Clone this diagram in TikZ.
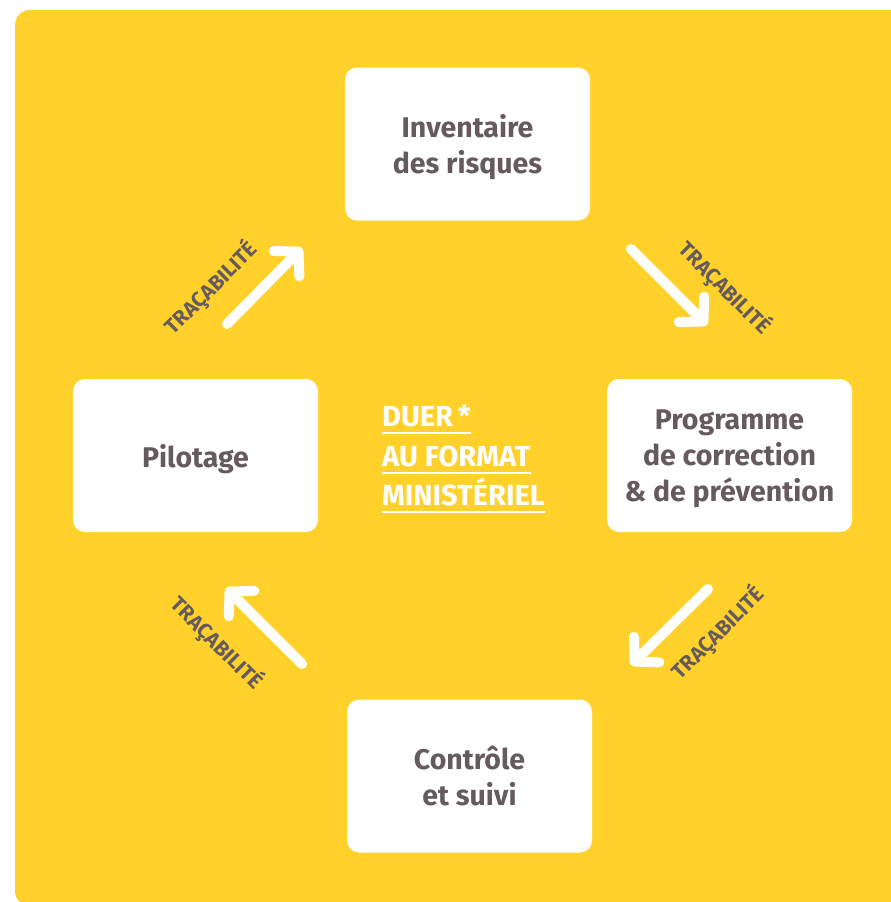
\documentclass[tikz,border=0pt]{standalone}
\usepackage{fontspec}
\setmainfont{Fira Sans}
\usetikzlibrary{arrows.meta}
\definecolor{duerjaune}{HTML}{FFD12A}
\definecolor{duertexte}{HTML}{655A5D}
\def\boxw{245pt}
\def\boxh{153pt}

\begin{document}
\begin{tikzpicture}[x=1pt,y=-1pt]
    \tikzstyle{etape}=[rectangle,rounded corners=12pt,fill=white,minimum width=\boxw,minimum height=\boxh,inner sep=0pt,text depth=0pt,align=center,text=duertexte,font=\fontsize{28.5}{36}\selectfont\bfseries]
    \tikzstyle{fleche}=[draw=white,line width=10pt,line cap=round,-{Straight Barb[length=17pt,width=36pt,line cap=round,line join=round]}]
    \tikzstyle{trace}=[text=duertexte,font=\fontsize{21}{21}\selectfont\bfseries,inner sep=0pt]
    \tikzstyle{duer}=[text=white,font=\fontsize{29}{29}\selectfont\bfseries,inner sep=0pt,anchor=base west]
    \tikzstyle{souligne}=[draw=white,line width=2pt]
    \useasboundingbox (0,0) rectangle (891,902);
    \clip (0,0) rectangle (891,902);
    % Draw the yellow background
    \fill[duerjaune,rounded corners=15pt] (15,10) rectangle (930,906);
    % Draw the four steps
    \node[etape] (inv) at (467.5,144) {Inventaire\\des risques};
    \node[etape] (prog) at (729.5,455.5) {Programme\\de correction\\\& de prévention};
    \node[etape] (ctrl) at (469.5,776) {Contrôle\\et suivi};
    \node[etape] (pil) at (195.5,455.5) {Pilotage};
    % Arrow ends
    \coordinate (pil-out) at (227,324);
    \coordinate (inv-in) at (302,248);
    \coordinate (inv-out) at (631,249);
    \coordinate (prog-in) at (707,325);
    \coordinate (prog-out) at (708,589);
    \coordinate (ctrl-in) at (631,665);
    \coordinate (ctrl-out) at (302,664);
    \coordinate (pil-in) at (226,588);
    \draw[fleche] (pil-out) -- (inv-in);
    \draw[fleche] (inv-out) -- (prog-in);
    \draw[fleche] (prog-out) -- (ctrl-in);
    \draw[fleche] (ctrl-out) -- (pil-in);
    % Annotate the arrows
    \node[trace,rotate=45] (t1) at (211,288) {TRAÇABILITÉ};
    \node[trace,rotate=-45] (t2) at (725,288) {TRAÇABILITÉ};
    \node[trace,rotate=45] (t3) at (718,633) {TRAÇABILITÉ};
    \node[trace,rotate=-45] (t4) at (217,643) {TRAÇABILITÉ};
    % Centre text
    \node[duer] (d1) at (382,426) {DUER\,*};
    \node[duer] (d2) at (382,466) {AU FORMAT};
    \node[duer] (d3) at (382,505) {MINISTÉRIEL};
    \foreach \n in {d1,d2,d3}
        \draw[souligne] ([yshift=-7pt]\n.base west) -- ([yshift=-7pt]\n.base east);
\end{tikzpicture}
\end{document}
